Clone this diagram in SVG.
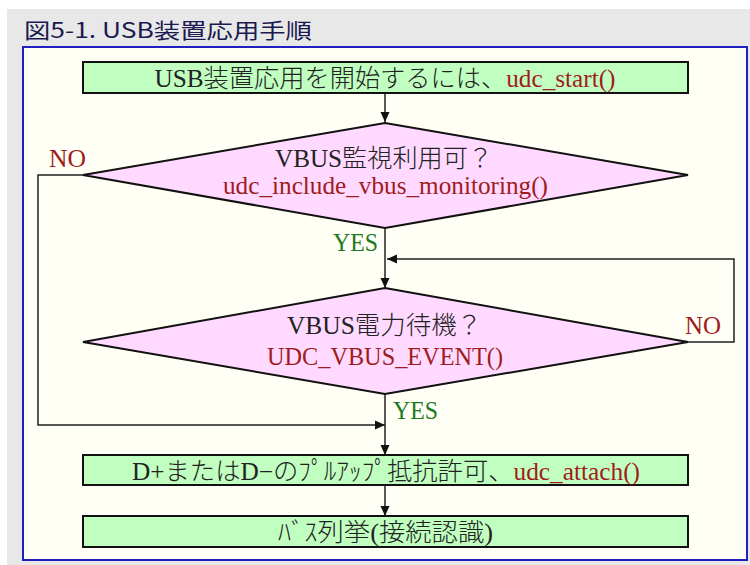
<svg xmlns="http://www.w3.org/2000/svg" width="750" height="565" viewBox="0 0 750 565">
<style>
.t{font-family:"Liberation Serif","Noto Sans CJK JP",serif;font-size:25px;font-weight:300;fill:#222;}
.r{fill:#a01c1c;}
.g{fill:#1e7a1e;}
.box{fill:#c0ffc0;stroke:#111;stroke-width:2;}
.dia{fill:#ffd9ff;stroke:#111;stroke-width:2;}
.c{fill:none;stroke:#222;stroke-width:1.5;}
.title{font-family:"Noto Sans CJK JP","Liberation Sans",sans-serif;font-size:21px;fill:#1a1a50;}
</style>
<defs>
<marker id="ah" markerWidth="10" markerHeight="10" refX="10" refY="5" orient="auto" markerUnits="userSpaceOnUse">
<path d="M0,0.5 L10,5 L0,9.5 Z" fill="#111"/>
</marker>
</defs>
<rect x="0" y="0" width="750" height="565" fill="#ffffff"/>
<rect x="7" y="9" width="743" height="556" fill="#e8e8e8"/>
<text class="title" x="24" y="38" textLength="288" lengthAdjust="spacingAndGlyphs">図5-1. USB装置応用手順</text>
<rect x="23" y="47" width="724" height="513" fill="#fffff5" stroke="#2020c0" stroke-width="2"/>

<g id="connectors">
<path class="c" d="M385,93 V122" marker-end="url(#ah)"/>
<path class="c" d="M385,228 V288" marker-end="url(#ah)"/>
<path class="c" d="M688,342 H734 V259 H387" marker-end="url(#ah)"/>
<path class="c" d="M83,175 H38 V425 H385" marker-end="url(#ah)"/>
<path class="c" d="M385,394 V455" marker-end="url(#ah)"/>
<path class="c" d="M385,486 V516" marker-end="url(#ah)"/>
</g>

<g id="start">
<rect class="box" x="83" y="62" width="605" height="31"/>
<text class="t" x="385" y="87" text-anchor="middle" textLength="461" lengthAdjust="spacingAndGlyphs">USB装置応用を開始するには、<tspan class="r">udc_start()</tspan></text>
</g>

<g id="check-vbus">
<polygon class="dia" points="385,123 688,175 385,228 83,175"/>
<text class="t" x="384" y="167" text-anchor="middle" textLength="218" lengthAdjust="spacingAndGlyphs">VBUS監視利用可？</text>
<text class="t r" x="385.5" y="194" text-anchor="middle" textLength="325" lengthAdjust="spacingAndGlyphs">udc_include_vbus_monitoring()</text>
</g>

<g id="wait-vbus">
<polygon class="dia" points="385,288 688,342 385,394 83,342"/>
<text class="t" x="384.5" y="334" text-anchor="middle" textLength="195" lengthAdjust="spacingAndGlyphs">VBUS電力待機？</text>
<text class="t r" x="385" y="365" text-anchor="middle" textLength="236" lengthAdjust="spacingAndGlyphs">UDC_VBUS_EVENT()</text>
</g>

<g id="labels">
<text class="t r" x="49" y="167" textLength="37" lengthAdjust="spacingAndGlyphs">NO</text>
<text class="t g" x="333" y="251" textLength="45" lengthAdjust="spacingAndGlyphs">YES</text>
<text class="t r" x="685" y="334" textLength="36" lengthAdjust="spacingAndGlyphs">NO</text>
<text class="t g" x="393" y="419" textLength="45" lengthAdjust="spacingAndGlyphs">YES</text>
</g>

<g id="attach">
<rect class="box" x="83" y="455" width="605" height="30"/>
<text class="t" x="386" y="480" text-anchor="middle" textLength="508" lengthAdjust="spacingAndGlyphs">D+またはD−のﾌﾟﾙｱｯﾌﾟ抵抗許可、<tspan class="r">udc_attach()</tspan></text>
</g>

<g id="enumerate">
<rect class="box" x="83" y="516" width="605" height="31"/>
<text class="t" x="385.5" y="541" text-anchor="middle" textLength="215" lengthAdjust="spacingAndGlyphs">ﾊﾞｽ列挙(接続認識)</text>
</g>
</svg>
